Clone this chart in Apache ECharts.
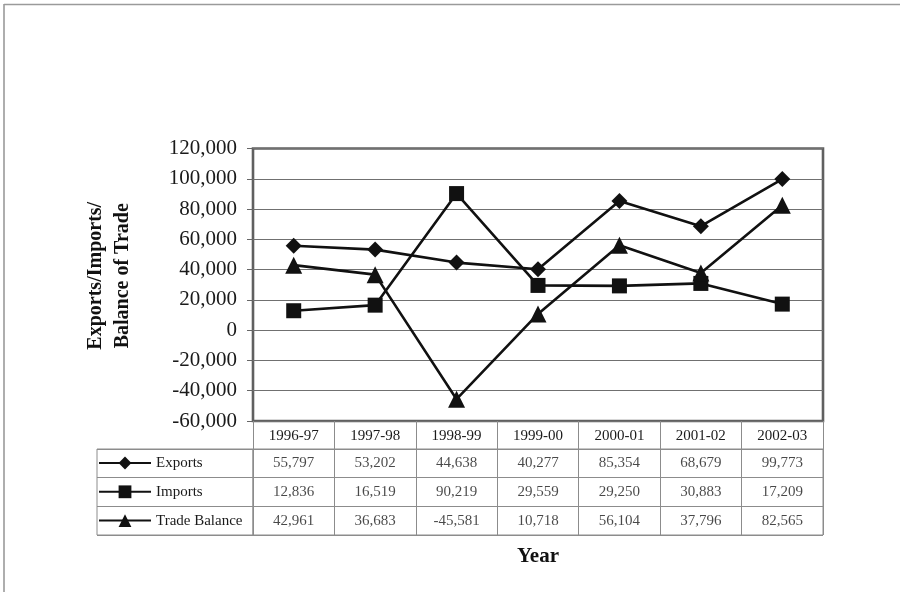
<!DOCTYPE html>
<html>
<head>
<meta charset="utf-8">
<script src="https://cdn.jsdelivr.net/npm/echarts@6/dist/echarts.min.js"></script>
<style>
  html, body { margin: 0; padding: 0; background: #fff; }
  #chart { width: 900px; height: 592px; }
</style>
</head>
<body>
<div id="chart"></div>
<script>
// Fiscal years on the category axis
const years = ['1996-97', '1997-98', '1998-99', '1999-00', '2000-01', '2001-02', '2002-03'];

// Trade figures per year
const exportsData = [55797, 53202, 44638, 40277, 85354, 68679, 99773];
const importsData = [12836, 16519, 90219, 29559, 29250, 30883, 17209];
const balanceData = [42961, 36683, -45581, 10718, 56104, 37796, 82565];

// Rows of the data table under the plot
const rowNames = ['Exports', 'Imports', 'Trade Balance'];
const rowValues = [exportsData, importsData, balanceData];
const rowSymbols = ['diamond', 'rect', 'triangle'];
const rowSymbolSizes = [16, 15, 17];

const serif = '"Liberation Serif", "Times New Roman", serif';
const ink = '#111';
const tableLine = '#8c8c8c';

const fmt = v => Number(v).toLocaleString('en-US');

// Lines on the main plot
const lineSeries = rowNames.map((name, i) => ({
  name: name,
  type: 'line',
  xAxisIndex: 0,
  yAxisIndex: 0,
  data: rowValues[i],
  symbol: rowSymbols[i],
  symbolSize: rowSymbolSizes[i],
  showAllSymbol: true,
  lineStyle: { color: ink, width: 2.6 },
  itemStyle: { color: ink, borderWidth: 0 },
  emphasis: { disabled: true },
  z: 3
}));

// Value cells of the table, placed on the table grid's category axes
const cellSeries = rowNames.map((name, i) => ({
  type: 'scatter',
  xAxisIndex: 1,
  yAxisIndex: 1,
  symbolSize: 1,
  itemStyle: { color: 'rgba(0,0,0,0)' },
  data: rowValues[i].map((v, j) => [years[j], name, v]),
  label: {
    show: true,
    position: 'inside',
    formatter: p => fmt(p.value[2]),
    fontFamily: serif,
    fontSize: 15,
    color: '#1a1a1a'
  },
  silent: true
}));

const chart = echarts.init(document.getElementById('chart'), null, { renderer: 'canvas' });

chart.setOption({
  backgroundColor: '#fff',
  animation: false,
  graphic: [
    // page frame
    { type: 'line', shape: { x1: 4, y1: 4.5, x2: 900, y2: 4.5 }, style: { stroke: '#9a9a9a', lineWidth: 1.6 }, silent: true },
    { type: 'line', shape: { x1: 4, y1: 4, x2: 4, y2: 592 }, style: { stroke: '#9a9a9a', lineWidth: 1.6 }, silent: true }
  ],
  legend: {
    orient: 'vertical',
    left: 98,
    top: 455,
    padding: 0,
    itemWidth: 52,
    itemHeight: 16,
    itemGap: 12.8,
    selectedMode: false,
    data: rowNames,
    textStyle: { fontFamily: serif, fontSize: 15, color: '#1a1a1a', lineHeight: 16 }
  },
  grid: [
    // main plot
    { left: 253, right: 77, top: 148.5, bottom: 171, show: true, borderColor: '#606060', borderWidth: 2.6, backgroundColor: 'transparent' },
    // table value cells
    { left: 253, right: 77, top: 449, bottom: 57, show: true, borderColor: tableLine, borderWidth: 1 },
    // table legend column
    { left: 97, width: 156, top: 449, bottom: 57, show: true, borderColor: tableLine, borderWidth: 1 }
  ],
  xAxis: [
    {
      type: 'category',
      gridIndex: 0,
      data: years,
      boundaryGap: true,
      axisLine: { show: false, onZero: false },
      axisTick: { show: true, interval: 0, length: 28, lineStyle: { color: tableLine, width: 1 } },
      axisLabel: { interval: 0, margin: 8, fontFamily: serif, fontSize: 15, color: '#1a1a1a', lineHeight: 15 },
      splitLine: { show: false }
    },
    {
      type: 'category',
      gridIndex: 1,
      data: years,
      boundaryGap: true,
      axisLine: { show: false, onZero: false },
      axisTick: { show: false },
      axisLabel: { show: false },
      splitLine: { show: true, interval: 0, lineStyle: { color: tableLine, width: 1 } },
      name: 'Year',
      nameLocation: 'middle',
      nameGap: 11,
      nameTextStyle: { fontFamily: serif, fontSize: 21, fontWeight: 'bold', color: '#111' }
    },
    {
      type: 'value',
      gridIndex: 2,
      min: 0,
      max: 1,
      show: false
    }
  ],
  yAxis: [
    {
      type: 'value',
      gridIndex: 0,
      min: -60000,
      max: 120000,
      interval: 20000,
      axisLine: { show: false },
      axisTick: { show: true, length: 6, lineStyle: { color: '#666', width: 1 } },
      axisLabel: { margin: 16, fontFamily: serif, fontSize: 21, color: '#1a1a1a', formatter: v => fmt(v) },
      splitLine: { show: true, lineStyle: { color: '#707070', width: 1.2 } },
      name: 'Exports/Imports/\nBalance of Trade',
      nameLocation: 'middle',
      nameRotate: 90,
      nameGap: 117,
      nameTextStyle: { fontFamily: serif, fontSize: 20, fontWeight: 'bold', color: '#111', lineHeight: 27, align: 'center', padding: [0, 0, 0, 18] }
    },
    {
      type: 'category',
      gridIndex: 1,
      data: rowNames,
      inverse: true,
      axisLine: { show: false },
      axisTick: { show: false },
      axisLabel: { show: false },
      splitLine: { show: true, interval: 0, lineStyle: { color: tableLine, width: 1 } }
    },
    {
      type: 'category',
      gridIndex: 2,
      data: rowNames,
      inverse: true,
      axisLine: { show: false },
      axisTick: { show: false },
      axisLabel: { show: false },
      splitLine: { show: true, interval: 0, lineStyle: { color: tableLine, width: 1 } }
    }
  ],
  series: lineSeries.concat(cellSeries)
});
</script>
</body>
</html>
